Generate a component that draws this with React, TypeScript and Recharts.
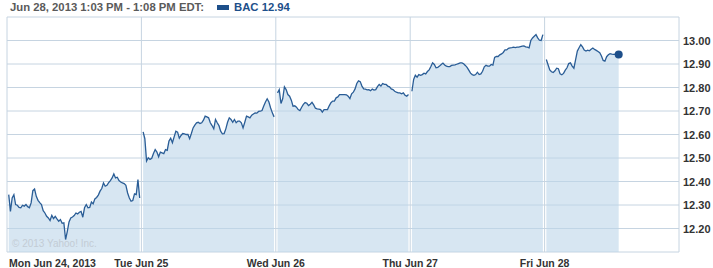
import React from 'react';
import { AreaChart, Area, XAxis, YAxis, CartesianGrid } from 'recharts';

// 5-minute bars, one array per trading day (9:35 onward)
const mon = [12.344, 12.273, 12.330, 12.344, 12.302, 12.299, 12.290, 12.288, 12.299, 12.295, 12.302, 12.293, 12.288, 12.309, 12.361, 12.368, 12.337, 12.320, 12.310, 12.302, 12.276, 12.266, 12.252, 12.245, 12.234, 12.256, 12.242, 12.252, 12.241, 12.231, 12.238, 12.222, 12.224, 12.153, 12.188, 12.228, 12.245, 12.249, 12.255, 12.266, 12.262, 12.269, 12.273, 12.248, 12.288, 12.302, 12.288, 12.290, 12.313, 12.305, 12.326, 12.332, 12.342, 12.359, 12.370, 12.394, 12.380, 12.384, 12.395, 12.404, 12.415, 12.432, 12.415, 12.418, 12.404, 12.398, 12.394, 12.391, 12.384, 12.351, 12.330, 12.316, 12.319, 12.347, 12.344, 12.408, 12.330];
const tue = [12.611, 12.582, 12.487, 12.501, 12.494, 12.499, 12.519, 12.536, 12.525, 12.505, 12.525, 12.522, 12.519, 12.536, 12.533, 12.572, 12.584, 12.565, 12.590, 12.614, 12.610, 12.584, 12.596, 12.604, 12.603, 12.600, 12.600, 12.582, 12.604, 12.628, 12.640, 12.650, 12.652, 12.647, 12.650, 12.661, 12.678, 12.675, 12.671, 12.650, 12.638, 12.624, 12.664, 12.650, 12.638, 12.614, 12.603, 12.604, 12.624, 12.652, 12.671, 12.664, 12.652, 12.664, 12.650, 12.657, 12.657, 12.650, 12.628, 12.652, 12.678, 12.675, 12.671, 12.682, 12.687, 12.692, 12.691, 12.698, 12.699, 12.702, 12.721, 12.738, 12.752, 12.738, 12.713, 12.692, 12.675];
const wed = [12.777, 12.791, 12.732, 12.752, 12.803, 12.791, 12.770, 12.763, 12.746, 12.720, 12.722, 12.716, 12.706, 12.702, 12.716, 12.728, 12.736, 12.733, 12.723, 12.729, 12.737, 12.726, 12.712, 12.709, 12.708, 12.706, 12.695, 12.706, 12.706, 12.706, 12.722, 12.735, 12.742, 12.742, 12.756, 12.760, 12.770, 12.770, 12.770, 12.770, 12.769, 12.763, 12.753, 12.773, 12.780, 12.794, 12.817, 12.828, 12.825, 12.806, 12.794, 12.793, 12.790, 12.791, 12.786, 12.793, 12.789, 12.791, 12.804, 12.813, 12.806, 12.817, 12.813, 12.813, 12.806, 12.803, 12.794, 12.791, 12.784, 12.780, 12.777, 12.777, 12.773, 12.777, 12.767, 12.763, 12.770];
const thu = [12.784, 12.834, 12.852, 12.844, 12.855, 12.852, 12.855, 12.861, 12.858, 12.868, 12.875, 12.889, 12.905, 12.898, 12.884, 12.886, 12.891, 12.898, 12.904, 12.896, 12.891, 12.889, 12.889, 12.894, 12.895, 12.896, 12.899, 12.902, 12.905, 12.905, 12.901, 12.894, 12.886, 12.874, 12.861, 12.855, 12.852, 12.855, 12.865, 12.855, 12.858, 12.869, 12.888, 12.895, 12.891, 12.891, 12.898, 12.895, 12.928, 12.932, 12.932, 12.939, 12.943, 12.949, 12.960, 12.960, 12.967, 12.969, 12.970, 12.972, 12.970, 12.972, 12.972, 12.974, 12.976, 12.977, 12.973, 12.972, 12.969, 13.000, 13.011, 13.018, 13.025, 13.011, 13.001, 13.000, 13.025];
const fri = [12.919, 12.897, 12.875, 12.867, 12.864, 12.871, 12.882, 12.880, 12.858, 12.854, 12.860, 12.874, 12.884, 12.902, 12.905, 12.891, 12.882, 12.919, 12.955, 12.969, 12.982, 12.973, 12.959, 12.955, 12.959, 12.956, 12.963, 12.968, 12.962, 12.958, 12.953, 12.948, 12.934, 12.915, 12.912, 12.931, 12.939, 12.944, 12.942, 12.941, 12.942, 12.938, 12.940];

const days = [mon, tue, wed, thu, fri];
const dayLabels = ['Mon Jun 24, 2013', 'Tue Jun 25', 'Wed Jun 26', 'Thu Jun 27', 'Fri Jun 28', ''];
const priceTicks = [12.1, 12.2, 12.3, 12.4, 12.5, 12.6, 12.7, 12.8, 12.9, 13.0, 13.1];
const SLOTS = 78; // 5-min bars per session

const dayTicks = dayLabels.map((_, i) => i * SLOTS);

// one row per 5-min slot, null row between sessions breaks the line
const data: { slot: number; price: number | null }[] = [];
days.forEach((vals, d) => {
  if (d > 0) data.push({ slot: d * SLOTS, price: null });
  vals.forEach((v, i) => data.push({ slot: d * SLOTS + 1 + i, price: v }));
});
const lastIndex = data.length - 1;

const BLUE = '#1d4f8a';

const XTick = ({ x, y, index }: any) => {
  const label = dayLabels[index];
  if (!label) return <g />;
  return (
    <text
      x={index === 0 ? x + 2 : x}
      y={y + 13}
      textAnchor={index === 0 ? 'start' : 'middle'}
      fill="#333"
      fontSize={10.5}
      fontWeight="bold"
      fontFamily="Liberation Sans, Arial, sans-serif"
    >
      {label}
    </text>
  );
};

const YTick = ({ x, y, payload }: any) => {
  const v = payload.value;
  if (v < 12.15 || v > 13.05) return <g />;
  return (
    <text
      x={x}
      y={y + 4}
      textAnchor="start"
      fill="#333"
      fontSize={11}
      fontWeight="bold"
      fontFamily="Liberation Sans, Arial, sans-serif"
    >
      {v.toFixed(2)}
    </text>
  );
};

const EndDot = ({ cx, cy, index }: any) => {
  if (index !== lastIndex || cy == null) return <g key={index} />;
  return <circle key={index} cx={cx} cy={cy} r={4} fill={BLUE} />;
};

export default function App() {
  return (
    <div
      style={{
        position: 'absolute',
        left: 0,
        top: 0,
        width: 713,
        height: 268,
        background: '#fff',
        fontFamily: 'Liberation Sans, Arial, sans-serif',
      }}
    >
      <div
        style={{
          position: 'absolute',
          left: 10,
          top: 1,
          fontSize: 11.3,
          fontWeight: 'bold',
          color: '#5a5a5a',
          whiteSpace: 'nowrap',
          display: 'flex',
          alignItems: 'center',
        }}
      >
        <span>Jun 28, 2013 1:03 PM - 1:08 PM EDT:</span>
        <span style={{ display: 'inline-block', width: 12, height: 5, background: BLUE, marginLeft: 13, marginRight: 5 }} />
        <span style={{ color: BLUE }}>BAC 12.94</span>
      </div>
      <AreaChart width={713} height={268} data={data} margin={{ top: 17, right: 0, bottom: 0, left: 7 }}>
        <CartesianGrid stroke="#c6d4e1" strokeWidth={1} />
        <XAxis
          dataKey="slot"
          type="number"
          domain={[0, 390]}
          ticks={dayTicks}
          height={16}
          axisLine={false}
          tickLine={false}
          tickSize={0}
          tick={<XTick />}
          interval={0}
        />
        <YAxis
          orientation="right"
          type="number"
          domain={[12.1, 13.1]}
          ticks={priceTicks}
          width={34}
          axisLine={false}
          tickLine={false}
          tickSize={0}
          tickMargin={4}
          tick={<YTick />}
          interval={0}
        />
        <Area
          type="linear"
          dataKey="price"
          stroke="#2a5d96"
          strokeWidth={1.3}
          fill="#bcd5ea"
          fillOpacity={0.6}
          connectNulls={false}
          dot={<EndDot />}
          activeDot={false}
          isAnimationActive={false}
        />
      </AreaChart>
      <div
        style={{
          position: 'absolute',
          left: 12,
          top: 238,
          fontSize: 10,
          color: '#c3ccd5',
          whiteSpace: 'nowrap',
        }}
      >
        © 2013 Yahoo! Inc.
      </div>
    </div>
  );
}
